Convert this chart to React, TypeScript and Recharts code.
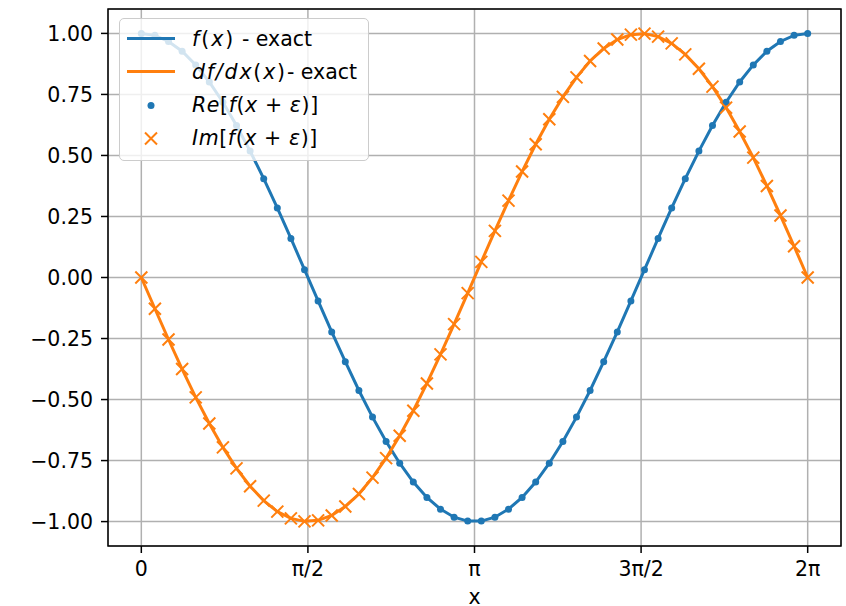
import React from "react"
import {
  ComposedChart,
  Line,
  XAxis,
  YAxis,
  CartesianGrid,
  ReferenceArea,
} from "recharts"

// sample positions (0 .. 2π, 50 points)
const xs = [
  0, 0.1282, 0.2565, 0.3847, 0.5129, 0.6411, 0.7694, 0.8976, 1.0258, 1.1541,
  1.2823, 1.4105, 1.5387, 1.667, 1.7952, 1.9234, 2.0517, 2.1799, 2.3081, 2.4363,
  2.5646, 2.6928, 2.821, 2.9493, 3.0775, 3.2057, 3.3339, 3.4622, 3.5904, 3.7186,
  3.8468, 3.9751, 4.1033, 4.2315, 4.3598, 4.488, 4.6162, 4.7444, 4.8727, 5.0009,
  5.1291, 5.2574, 5.3856, 5.5138, 5.642, 5.7703, 5.8985, 6.0267, 6.155, 6.2832,
]

// f(x) / Re[f(x+ε)]
const reValues = [
  1.0, 0.992, 0.967, 0.927, 0.871, 0.801, 0.718, 0.623, 0.518, 0.405,
  0.285, 0.16, 0.032, -0.096, -0.223, -0.345, -0.463, -0.572, -0.672, -0.761,
  -0.838, -0.901, -0.949, -0.982, -0.998, -0.998, -0.982, -0.949, -0.901, -0.838,
  -0.761, -0.672, -0.572, -0.463, -0.345, -0.223, -0.096, 0.032, 0.16, 0.285,
  0.405, 0.518, 0.623, 0.718, 0.801, 0.871, 0.927, 0.967, 0.992, 1.0,
]

// df/dx(x) / Im[f(x+ε)]
const imValues = [
  0.0, -0.128, -0.254, -0.375, -0.491, -0.598, -0.696, -0.782, -0.855, -0.914,
  -0.959, -0.987, -0.999, -0.995, -0.975, -0.938, -0.887, -0.82, -0.74, -0.648,
  -0.546, -0.434, -0.315, -0.191, -0.064, 0.064, 0.191, 0.315, 0.434, 0.546,
  0.648, 0.74, 0.82, 0.887, 0.938, 0.975, 0.995, 0.999, 0.987, 0.959,
  0.914, 0.855, 0.782, 0.696, 0.598, 0.491, 0.375, 0.254, 0.128, 0.0,
]

const xTicks = [0, Math.PI / 2, Math.PI, (3 * Math.PI) / 2, 2 * Math.PI]
const xTickLabels = ["0", "π/2", "π", "3π/2", "2π"]
const yTicks = [-1, -0.75, -0.5, -0.25, 0, 0.25, 0.5, 0.75, 1]

const BLUE = "#1f77b4"
const ORANGE = "#ff7f0e"
const FONT = "'DejaVu Sans', sans-serif"
const FS = 20.5

const data = xs.map((x, i) => ({ x, re: reValues[i], im: imValues[i] }))

const xMin = -0.1 * Math.PI
const xMax = 2.1 * Math.PI

function fmtY(v: number) {
  const s = Math.abs(v).toFixed(2)
  return v < 0 ? "\u2212" + s : s
}

function fmtX(v: number) {
  const i = xTicks.findIndex((t) => Math.abs(t - v) < 1e-6)
  return i >= 0 ? xTickLabels[i] : ""
}

const DotMarker = (props: any) => {
  const { cx, cy, index } = props
  if (cx == null || cy == null) return <g key={index} />
  return <circle key={index} cx={cx} cy={cy} r={3.5} fill={BLUE} />
}

const CrossMarker = (props: any) => {
  const { cx, cy, index } = props
  if (cx == null || cy == null) return <g key={index} />
  const s = 6
  return (
    <path
      key={index}
      d={`M${cx - s},${cy - s}L${cx + s},${cy + s}M${cx - s},${cy + s}L${cx + s},${cy - s}`}
      stroke={ORANGE}
      strokeWidth={2}
      fill="none"
    />
  )
}

const XLabel = (props: any) => {
  const vb = props.viewBox || {}
  const cx = vb.width != null ? vb.x + vb.width / 2 : 474
  return (
    <text x={cx} y={604} textAnchor="middle" fill="#000" fontSize={FS} fontFamily={FONT}>
      x
    </text>
  )
}

const it = (t: string) => <span style={{ fontStyle: "italic" }}>{t}</span>
const math = (node: React.ReactNode, ls: number) => (
  <span style={{ letterSpacing: ls }}>{node}</span>
)

const legendRows = [
  { kind: "line", color: BLUE, label: <>{math(<>{it("f")}({it("x")})</>, 2)} - exact</> },
  {
    kind: "line",
    color: ORANGE,
    label: <>{math(<>{it("df")}{it("/")}{it("dx")}({it("x")})</>, 1.8)}- exact</>,
  },
  {
    kind: "dot",
    color: BLUE,
    label: math(<>{it("Re")}[{it("f")}({it("x")} + {it("ε")})]</>, 0.6),
  },
  {
    kind: "cross",
    color: ORANGE,
    label: math(<>{it("Im")}[{it("f")}({it("x")} + {it("ε")})]</>, 0.6),
  },
]

function LegendBox() {
  return (
    <div
      style={{
        position: "absolute",
        left: 119,
        top: 18,
        width: 248,
        height: 141,
        background: "rgba(255,255,255,0.8)",
        border: "1.5px solid #cccccc",
        borderRadius: 5,
        fontFamily: FONT,
        fontSize: FS,
        color: "#000",
      }}
    >
      {legendRows.map((row, i) => (
        <div
          key={i}
          style={{
            position: "absolute",
            left: 7,
            top: 3 + i * 33.3,
            height: 33,
            display: "flex",
            alignItems: "center",
            whiteSpace: "nowrap",
          }}
        >
          <svg width={48} height={33} style={{ marginRight: 17 }}>
            {row.kind === "line" && (
              <line x1={0} x2={48} y1={16.5} y2={16.5} stroke={row.color} strokeWidth={3} />
            )}
            {row.kind === "dot" && <circle cx={24} cy={16.5} r={3.5} fill={row.color} />}
            {row.kind === "cross" && (
              <path d="M18,10.5L30,22.5M18,22.5L30,10.5" stroke={row.color} strokeWidth={2} />
            )}
          </svg>
          <span>{row.label}</span>
        </div>
      ))}
    </div>
  )
}

export default function App() {
  const tickStyle = { fill: "#000", fontSize: FS, fontFamily: FONT }
  return (
    <div style={{ position: "absolute", left: 0, top: 0, width: 846, height: 606, background: "#fff" }}>
      <ComposedChart
        width={846}
        height={606}
        data={data}
        margin={{ top: 9, right: 5, bottom: 0, left: 0 }}
      >
        <CartesianGrid stroke="#b0b0b0" strokeWidth={1.5} />
        <XAxis
          dataKey="x"
          type="number"
          domain={[xMin, xMax]}
          ticks={xTicks}
          tickFormatter={fmtX}
          allowDataOverflow
          height={60}
          tick={tickStyle}
          tickSize={7}
          tickMargin={8}
          axisLine={false}
          tickLine={{ stroke: "#000", strokeWidth: 1.5 }}
          label={<XLabel />}
        />
        <YAxis
          type="number"
          domain={[-1.1, 1.1]}
          ticks={yTicks}
          tickFormatter={fmtY}
          allowDataOverflow
          width={108}
          tick={tickStyle}
          tickSize={7}
          tickMargin={8}
          axisLine={false}
          tickLine={{ stroke: "#000", strokeWidth: 1.5 }}
        />
        <Line
          dataKey="re"
          stroke={BLUE}
          strokeWidth={3}
          dot={false}
          activeDot={false}
          isAnimationActive={false}
        />
        <Line
          dataKey="im"
          stroke={ORANGE}
          strokeWidth={3}
          dot={false}
          activeDot={false}
          isAnimationActive={false}
        />
        <Line
          dataKey="re"
          stroke="none"
          dot={DotMarker}
          activeDot={false}
          isAnimationActive={false}
        />
        <Line
          dataKey="im"
          stroke="none"
          dot={CrossMarker}
          activeDot={false}
          isAnimationActive={false}
        />
        <ReferenceArea
          x1={xMin}
          x2={xMax}
          y1={-1.1}
          y2={1.1}
          fill="none"
          stroke="#000"
          strokeWidth={1.5}
          ifOverflow="visible"
        />
      </ComposedChart>
      <LegendBox />
    </div>
  )
}
